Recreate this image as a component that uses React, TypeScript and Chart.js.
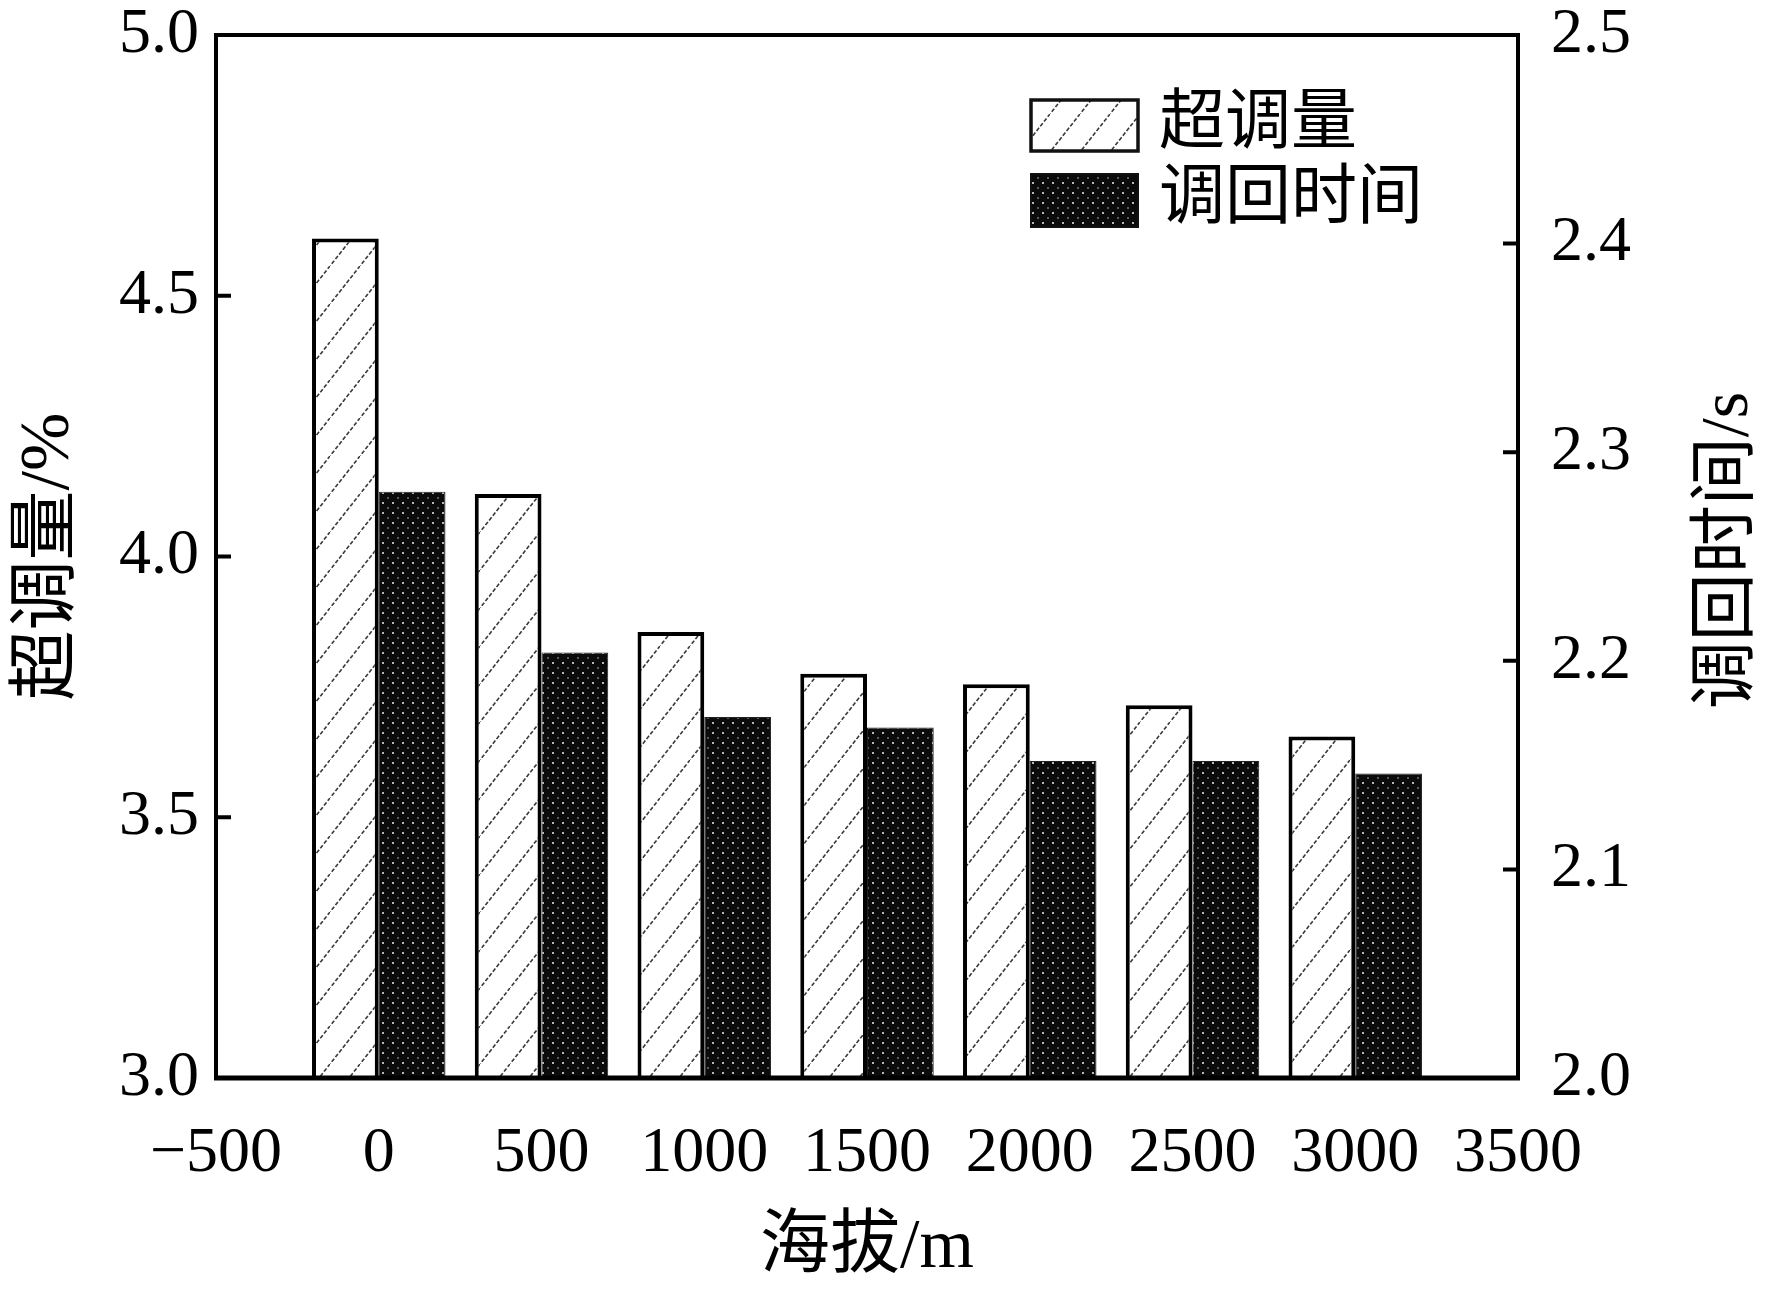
import { useEffect, useRef } from "react";
import { Chart, registerables } from "chart.js";

Chart.register(...registerables);

// data
const altitudes = [0, 500, 1000, 1500, 2000, 2500, 3000];
const overshoot = [4.61, 4.12, 3.855, 3.775, 3.755, 3.715, 3.655];
const settlingTime = [2.281, 2.204, 2.173, 2.168, 2.152, 2.152, 2.146];
const seriesNames = ["超调量", "调回时间"];
const xTitle = "海拔/m";
const yLeftTitle = "超调量/%";
const yRightTitle = "调回时间/s";

const FONT = "'Liberation Serif', 'Noto Sans CJK SC', serif";

function hatchPattern(ctx: CanvasRenderingContext2D) {
  const c = document.createElement("canvas");
  c.width = 30;
  c.height = 38;
  const g = c.getContext("2d")!;
  g.fillStyle = "#fff";
  g.fillRect(0, 0, 30, 38);
  g.strokeStyle = "#3a3a3a";
  g.lineWidth = 1.6;
  g.setLineDash([4, 2]);
  g.beginPath();
  g.moveTo(-2, 38 + 2.53);
  g.lineTo(32, -2.53);
  g.stroke();
  return ctx.createPattern(c, "repeat")!;
}

function dotPattern(ctx: CanvasRenderingContext2D) {
  const c = document.createElement("canvas");
  c.width = 10;
  c.height = 10;
  const g = c.getContext("2d")!;
  g.fillStyle = "#0b0b0b";
  g.fillRect(0, 0, 10, 10);
  g.fillStyle = "#b8b8b8";
  g.fillRect(2, 2, 2, 2);
  g.fillStyle = "#5a5a5a";
  g.fillRect(7, 7, 2, 2);
  return ctx.createPattern(c, "repeat")!;
}

// frame, inward ticks, right title and legend
const decorations = {
  id: "decorations",
  afterDraw(chart: any) {
    const { ctx, chartArea: a, scales } = chart;
    ctx.save();
    ctx.strokeStyle = "#000";
    ctx.lineWidth = 4;
    ctx.strokeRect(a.left, a.top, a.right - a.left, a.bottom - a.top);
    ctx.lineWidth = 5;
    ctx.beginPath();
    ctx.moveTo(a.left - 2, a.bottom);
    ctx.lineTo(a.right + 2, a.bottom);
    ctx.stroke();

    ctx.lineWidth = 4;
    ctx.beginPath();
    scales.y.ticks.forEach((t: any) => {
      const p = scales.y.getPixelForValue(t.value);
      ctx.moveTo(a.left, p);
      ctx.lineTo(a.left + 15, p);
    });
    scales.y1.ticks.forEach((t: any) => {
      const p = scales.y1.getPixelForValue(t.value);
      ctx.moveTo(a.right, p);
      ctx.lineTo(a.right - 15, p);
    });
    ctx.stroke();

    // right axis title, reading bottom to top
    ctx.fillStyle = "#000";
    ctx.font = `68px ${FONT}`;
    ctx.textAlign = "center";
    ctx.textBaseline = "middle";
    ctx.translate(1729, (a.top + a.bottom) / 2 - 6);
    ctx.rotate(-Math.PI / 2);
    ctx.fillText(yRightTitle, 0, 0);
    ctx.setTransform(1, 0, 0, 1, 0, 0);

    // legend
    const rows = [
      { y: 100, h: 51 },
      { y: 174, h: 53 },
    ];
    chart.data.datasets.forEach((ds: any, i: number) => {
      const r = rows[i];
      ctx.fillStyle = ds.backgroundColor;
      ctx.fillRect(1031, r.y, 107, r.h);
      ctx.lineWidth = i === 0 ? 3.5 : 2;
      ctx.strokeStyle = "#111";
      ctx.strokeRect(1031, r.y, 107, r.h);
      ctx.fillStyle = "#000";
      ctx.font = `66px ${FONT}`;
      ctx.textAlign = "left";
      ctx.textBaseline = "middle";
      ctx.fillText(ds.label, 1159, r.y + r.h / 2);
    });
    ctx.restore();
  },
};

export default function App() {
  const canvasRef = useRef<HTMLCanvasElement>(null);

  useEffect(() => {
    document.body.style.margin = "0";
    const ctx = canvasRef.current?.getContext("2d");
    if (!ctx) return;

    const tickFont = { family: FONT, size: 64, lineHeight: 1 };
    const titleFont = { family: FONT, size: 70, lineHeight: 1 };

    const chart = new Chart(ctx, {
      type: "bar",
      data: {
        datasets: [
          {
            label: seriesNames[0],
            data: altitudes.map((x, i) => ({ x, y: overshoot[i] })),
            yAxisID: "y",
            backgroundColor: hatchPattern(ctx),
            borderColor: "#000",
            borderWidth: { top: 4, left: 4, right: 4, bottom: 0 },
            categoryPercentage: 0.82,
            barPercentage: 1,
          },
          {
            label: seriesNames[1],
            data: altitudes.map((x, i) => ({ x, y: settlingTime[i] })),
            yAxisID: "y1",
            backgroundColor: dotPattern(ctx),
            borderColor: "#222",
            borderWidth: 1,
            categoryPercentage: 0.82,
            barPercentage: 1,
          },
        ],
      } as any,
      options: {
        responsive: false,
        animation: false,
        layout: { padding: { top: 35, left: 0, right: 0, bottom: 0 } },
        plugins: {
          legend: { display: false },
          tooltip: { enabled: false },
        },
        scales: {
          x: {
            type: "linear",
            min: -500,
            max: 3500,
            offset: false,
            grid: { display: false, drawTicks: false, offset: false },
            border: { display: false },
            ticks: {
              stepSize: 500,
              padding: 44,
              autoSkip: false,
              maxRotation: 0,
              color: "#000",
              font: tickFont,
              callback: (v: any) => String(v).replace("-", "−"),
            },
            title: {
              display: true,
              text: xTitle,
              color: "#000",
              font: titleFont,
              padding: { top: 0, bottom: 8 },
            },
            afterFit: (s: any) => {
              s.height = 214;
            },
          },
          y: {
            position: "left",
            min: 3,
            max: 5,
            // tick marks are drawn inward by the plugin; tickLength only spaces the labels
            grid: { display: false, drawTicks: true, tickLength: 14 },
            border: { display: false },
            ticks: {
              stepSize: 0.5,
              padding: 3,
              color: "#000",
              font: tickFont,
              callback: (v: any) => Number(v).toFixed(1),
            },
            title: {
              display: true,
              text: yLeftTitle,
              color: "#000",
              font: titleFont,
              padding: { top: 15, bottom: 0 },
            },
            afterFit: (s: any) => {
              s.width = 216;
            },
          },
          y1: {
            position: "right",
            min: 2,
            max: 2.5,
            grid: { display: false, drawTicks: true, tickLength: 30 },
            border: { display: false },
            ticks: {
              stepSize: 0.1,
              padding: 3,
              color: "#000",
              font: tickFont,
              callback: (v: any) => Number(v).toFixed(1),
            },
            afterFit: (s: any) => {
              s.width = 254;
            },
          },
        },
      } as any,
      plugins: [decorations],
    });

    return () => chart.destroy();
  }, []);

  return (
    <div style={{ width: 1772, height: 1292, background: "#fff" }}>
      <canvas ref={canvasRef} width={1772} height={1292} style={{ width: 1772, height: 1292 }} />
    </div>
  );
}
